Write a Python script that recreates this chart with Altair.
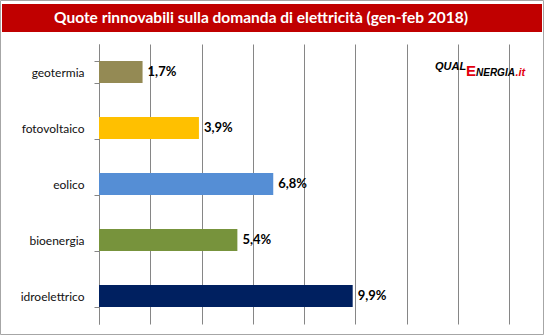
import altair as alt
import pandas as pd

categories = ["geotermia", "fotovoltaico", "eolico", "bioenergia", "idroelettrico"]
values = [1.7, 3.9, 6.8, 5.4, 9.9]
colors = ["#948A54", "#FFC000", "#558ED5", "#77933C", "#002060"]
title_text = "Quote rinnovabili  sulla domanda  di elettricità (gen-feb 2018)"
grid_values = [0, 2, 4, 6, 8, 10, 12, 14, 16]

df = pd.DataFrame({"cat": categories, "val": values})
one = pd.DataFrame({"a": [0]})

FONT = "Lato"

y_enc = alt.Y(
    "cat:N",
    sort=categories,
    scale=alt.Scale(paddingInner=0.607, paddingOuter=0.3035),
    axis=alt.Axis(
        title=None,
        labelFont=FONT,
        labelFontSize=12,
        labelColor="#111111",
        labelPadding=10,
        tickBand="extent",
        tickSize=5,
        tickColor="#868686",
        domainColor="#868686",
        grid=False,
    ),
)
x_enc = alt.X(
    "val:Q",
    scale=alt.Scale(domain=[0, 16], nice=False),
    axis=alt.Axis(
        values=grid_values,
        labels=False,
        ticks=False,
        domain=False,
        grid=True,
        gridColor="#868686",
        gridOpacity=1,
        title=None,
    ),
)

base = alt.Chart(df)
bars = base.mark_bar().encode(
    y=y_enc,
    x=x_enc,
    color=alt.Color("cat:N", scale=alt.Scale(domain=categories, range=colors), legend=None),
)
labels = base.mark_text(
    align="left", dx=5, fontWeight="bold", fontSize=13, font=FONT, color="#000000"
).transform_calculate(
    lab="replace(format(datum.val, '.1f'), '.', ',') + '%'"
).encode(y=alt.Y("cat:N", sort=categories), x="val:Q", text="lab:N")

ann = alt.Chart(one)
border = ann.mark_rect(fill=None, stroke="#A6A6A6", strokeWidth=1).encode(
    x=alt.value(-98.5), x2=alt.value(444.5), y=alt.value(-43.5), y2=alt.value(290.5)
)
title_bar = ann.mark_rect(fill="#C00000", stroke=None).encode(
    x=alt.value(-97), x2=alt.value(443), y=alt.value(-40), y2=alt.value(-12)
)
title = ann.mark_text(
    text=title_text, font=FONT, fontSize=15.5, fontWeight="bold", color="white",
    align="center", baseline="middle"
).encode(x=alt.value(162), y=alt.value(-26))

logo_qual = ann.mark_text(
    text="QUAL", font="Liberation Sans", fontSize=11, fontWeight="bold", fontStyle="italic",
    color="#000000", align="left", baseline="alphabetic"
).encode(x=alt.value(336), y=alt.value(26))
logo_e = ann.mark_text(
    text="E", font="Liberation Sans", fontSize=15, fontWeight="bold",
    color="#E3000F", align="left", baseline="alphabetic"
).encode(x=alt.value(367), y=alt.value(32))
logo_nergia = ann.mark_text(
    text="NERGIA", font="Liberation Sans", fontSize=10, fontWeight="bold", fontStyle="italic",
    color="#000000", align="left", baseline="alphabetic"
).encode(x=alt.value(377), y=alt.value(32))
logo_it = ann.mark_text(
    text=".it", font="Liberation Sans", fontSize=11, fontWeight="bold", fontStyle="italic",
    color="#E3000F", align="left", baseline="alphabetic"
).encode(x=alt.value(416.5), y=alt.value(32))

chart = alt.layer(
    bars, labels, border, title_bar, title, logo_qual, logo_e, logo_nergia, logo_it
).properties(
    width=410,
    height=280,
    autosize=alt.AutoSizeParams(type="none"),
    padding={"left": 99, "top": 44, "right": 35, "bottom": 11},
    background="white",
).configure_view(stroke=None)

chart.save("out.html", embed_options={"renderer": "svg", "actions": False})
